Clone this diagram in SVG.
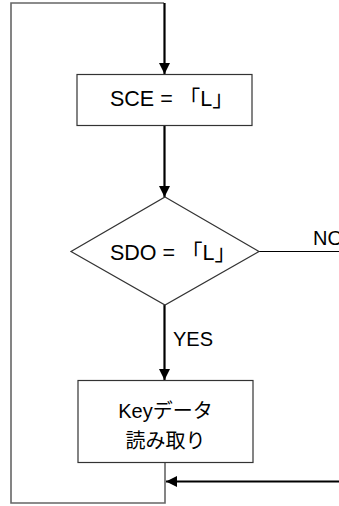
<svg xmlns="http://www.w3.org/2000/svg" width="339" height="506" viewBox="0 0 339 506">
  <style>
    .box { fill: #ffffff; stroke: #333333; stroke-width: 1.2; }
    .loop { fill: none; stroke: #666666; stroke-width: 1.6; }
    .flow { fill: none; stroke: #000000; stroke-width: 2.2; }
    .thin { fill: none; stroke: #000000; stroke-width: 1.2; }
    .lbl { font-family: "Liberation Sans", "Noto Sans CJK JP", sans-serif; font-size: 20px; fill: #000000; }
    .cond { font-size: 21.5px; }
  </style>
  <defs>
    <marker id="arrow" viewBox="0 0 10 10" refX="10" refY="5" markerWidth="5" markerHeight="5" orient="auto" markerUnits="strokeWidth">
      <path d="M0,0 L10,5 L0,10 Z" fill="#000000"/>
    </marker>
  </defs>

  <!-- connectors -->
  <g id="connectors">
    <!-- return loop around the left side -->
    <polyline class="loop" points="164,3 11,3 11,503 165,503 165,462"/>
    <!-- entry into SCE -->
    <line class="flow" x1="164.5" y1="3" x2="164.5" y2="74" marker-end="url(#arrow)"/>
    <!-- SCE to SDO check -->
    <line class="flow" x1="164.5" y1="125" x2="164.5" y2="197" marker-end="url(#arrow)"/>
    <!-- YES branch -->
    <line class="flow" x1="164.5" y1="305" x2="164.5" y2="380" marker-end="url(#arrow)"/>
    <!-- NO branch -->
    <line class="thin" x1="259" y1="251.5" x2="339" y2="251.5"/>
    <!-- return from the right -->
    <line class="flow" x1="339" y1="481.5" x2="166" y2="481.5" marker-end="url(#arrow)"/>
    <text class="lbl" x="173" y="346">YES</text>
    <text class="lbl" x="313" y="245">NO</text>
  </g>

  <g id="sce">
    <rect class="box" x="77" y="74.5" width="175" height="51"/>
    <text class="lbl cond" x="110" y="106">SCE = 「L」</text>
  </g>

  <g id="sdo">
    <polygon class="box" points="165,197 259,251.5 165,305 71,251.5"/>
    <text class="lbl cond" x="110" y="260">SDO = 「L」</text>
  </g>

  <g id="read">
    <rect class="box" x="78" y="380.5" width="175" height="82"/>
    <text class="lbl" x="165.5" y="418" text-anchor="middle">Keyデータ</text>
    <text class="lbl" x="165.5" y="448" text-anchor="middle">読み取り</text>
  </g>
</svg>
